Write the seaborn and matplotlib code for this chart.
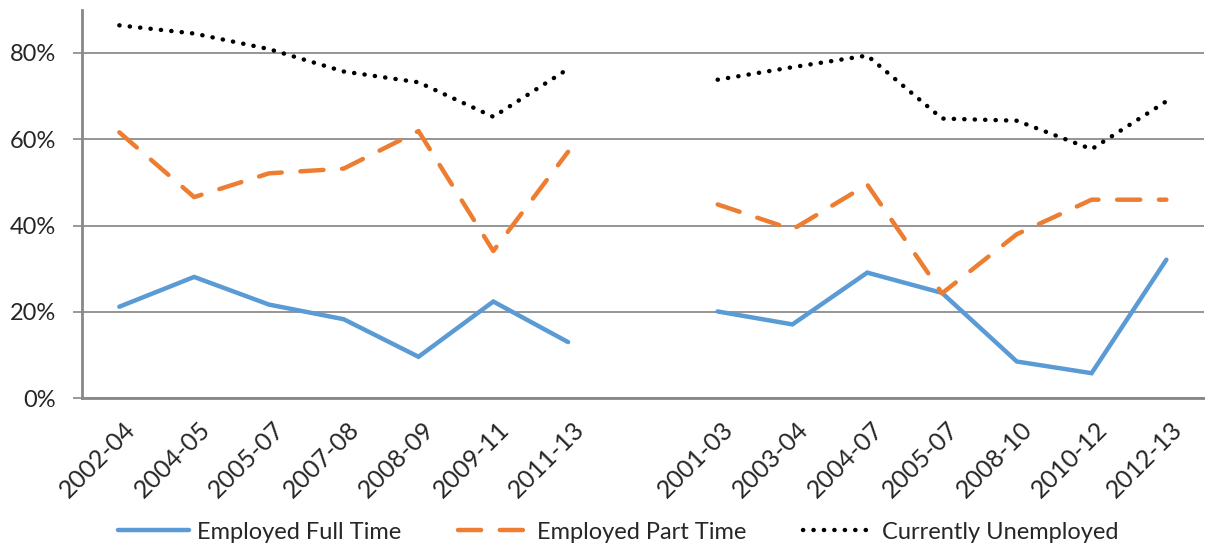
import numpy as np
import pandas as pd
import matplotlib
matplotlib.use("Agg")
import matplotlib.pyplot as plt
import matplotlib.transforms as mtransforms
from matplotlib.lines import Line2D
from matplotlib.ticker import PercentFormatter, FixedLocator
import seaborn as sns

categories = ["2002-04", "2004-05", "2005-07", "2007-08", "2008-09", "2009-11", "2011-13", "",
              "2001-03", "2003-04", "2004-07", "2005-07", "2008-10", "2010-12", "2012-13"]
full_time = [21.2, 28.1, 21.7, 18.3, 9.6, 22.4, 13.0, None,
             20.1, 17.1, 29.1, 24.4, 8.5, 5.8, 32.1]
part_time = [61.6, 46.6, 52.1, 53.2, 61.9, 34.1, 57.1, None,
             44.9, 39.1, 49.5, 24.3, 38.0, 46.0, 46.0]
unemployed = [86.4, 84.5, 80.9, 75.7, 73.2, 65.2, 76.3, None,
              73.8, 76.7, 79.4, 64.8, 64.3, 57.7, 68.8]
series_names = ["Employed Full Time", "Employed Part Time", "Currently Unemployed"]

sns.set_theme(style="white")
plt.rcParams["font.family"] = ["Lato", "DejaVu Sans"]

fig = plt.figure(figsize=(12.05, 5.44), dpi=100)
ax = fig.add_axes([0.068, 0.268, 0.931, 0.714])

styles = {
    "Employed Full Time": dict(color="#5B9BD5", lw=3.2, ls="-", cap="round"),
    "Employed Part Time": dict(color="#ED7D31", lw=3.2, ls=(0, (5.2, 4.2)), cap="round"),
    "Currently Unemployed": dict(color="#000000", lw=3.2, ls=(0, (0.05, 2.3)), cap="round"),
}

vals = {"Employed Full Time": full_time, "Employed Part Time": part_time,
        "Currently Unemployed": unemployed}

rows = []
for name in series_names:
    for i, v in enumerate(vals[name]):
        if v is not None:
            rows.append(dict(series=name, pos=i, value=v / 100.0, segment=0 if i < 7 else 1))
df = pd.DataFrame(rows)

for name in series_names:
    st = styles[name]
    for seg in (0, 1):
        sub = df[(df.series == name) & (df.segment == seg)]
        sns.lineplot(data=sub, x="pos", y="value", ax=ax, color=st["color"], lw=st["lw"],
                     legend=False, sort=False)
        line = ax.lines[-1]
        line.set_linestyle(st["ls"])
        line.set_dash_capstyle(st["cap"])
        line.set_solid_capstyle(st["cap"])
        line.set_solid_joinstyle("miter")

ax.set_xlim(-0.5, 14.5)
ax.set_ylim(0, 0.9)
ax.set_yticks([0, 0.2, 0.4, 0.6, 0.8])
ax.yaxis.set_major_formatter(PercentFormatter(1.0, decimals=0))
ax.grid(axis="y", color="#8c8c8c", lw=1.3)
ax.set_axisbelow(True)

ax.set_xticks(np.arange(len(categories)))
ax.set_xticklabels(categories, rotation=45, ha="right", rotation_mode="anchor", fontsize=18)
ax.tick_params(axis="x", which="major", length=0, pad=14)
ax.xaxis.set_minor_locator(FixedLocator(np.arange(-0.5, 15.0, 1.0)))
ax.tick_params(axis="x", which="minor", length=6, width=1.2, color="#888888", direction="out")
ax.tick_params(axis="y", length=6.5, width=1.2, color="#888888", labelsize=17, direction="out",
               left=True, pad=12)
ax.set_xlabel("")
ax.set_ylabel("")

offset = mtransforms.ScaledTranslation(4 / 100, 0, fig.dpi_scale_trans)
for lab in ax.get_xticklabels():
    lab.set_transform(lab.get_transform() + offset)

for s in ["top", "right"]:
    ax.spines[s].set_visible(False)
for s in ["left", "bottom"]:
    ax.spines[s].set_color("#888888")
    ax.spines[s].set_linewidth(2.0)

handles = []
for name in series_names:
    st = styles[name]
    h = Line2D([0], [0], color=st["color"], lw=st["lw"], ls=st["ls"],
               dash_capstyle="round", solid_capstyle="round")
    handles.append(h)
fig.legend(handles, series_names, loc="center", bbox_to_anchor=(0.513, 0.022), ncol=3,
           frameon=False, fontsize=17, handlelength=3.0, handletextpad=0.35, columnspacing=2.4)

fig.savefig("out.png", dpi=100)
